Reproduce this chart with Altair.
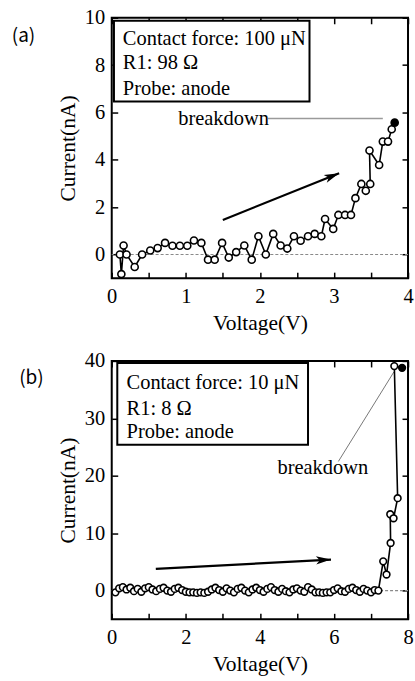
import altair as alt
import pandas as pd

# ---------------- data: panel (a) ----------------
a_voltage = [0.11, 0.13, 0.16, 0.20, 0.31, 0.41, 0.52, 0.62, 0.72, 0.82, 0.92, 1.02,
             1.11, 1.21, 1.30, 1.39, 1.49, 1.58, 1.68, 1.79, 1.89, 1.98, 2.08, 2.18,
             2.28, 2.37, 2.46, 2.55, 2.65, 2.74, 2.83, 2.88, 2.99, 3.06, 3.15, 3.23,
             3.29, 3.37, 3.43, 3.49, 3.48, 3.61, 3.66, 3.73, 3.78, 3.82]
a_current = [0.00, -0.83, 0.38, 0.00, -0.53, 0.00, 0.17, 0.27, 0.49, 0.37, 0.37, 0.37,
             0.59, 0.49, -0.22, -0.22, 0.49, -0.13, 0.10, 0.38, -0.22, 0.77, 0.00, 0.87,
             0.38, 0.25, 0.77, 0.58, 0.77, 0.87, 0.77, 1.50, 1.08, 1.67, 1.67, 1.67,
             2.38, 2.98, 2.69, 2.98, 4.39, 3.78, 4.77, 4.77, 5.29, 5.57]

# ---------------- data: panel (b) ----------------
b_voltage = [0.1, 0.2, 0.3, 0.4, 0.5, 0.6, 0.7, 0.8, 0.9, 1.0, 1.1, 1.2, 1.3, 1.4, 1.5,
             1.6, 1.7, 1.8, 1.9, 2.0, 2.1, 2.2, 2.3, 2.4, 2.5, 2.6, 2.7, 2.8, 2.9, 3.0,
             3.1, 3.2, 3.3, 3.4, 3.5, 3.6, 3.7, 3.8, 3.9, 4.0, 4.1, 4.2, 4.3, 4.4, 4.5,
             4.6, 4.7, 4.8, 4.9, 5.0, 5.1, 5.2, 5.3, 5.4, 5.5, 5.6, 5.7, 5.8, 5.9, 6.0,
             6.1, 6.2, 6.3, 6.4, 6.5, 6.6, 6.7, 6.8, 6.9, 7.0, 7.1, 7.2,
             7.33, 7.42, 7.53, 7.52, 7.61, 7.72, 7.63, 7.84]
b_current = [-0.3, 0.4, 0.6, 0.2, 0.5, -0.1, 0.3, -0.2, 0.4, 0.6, 0.2, -0.1, 0.3, 0.5, 0.0,
             -0.2, 0.3, 0.5, 0.1, -0.2, -0.3, -0.3, -0.4, -0.3, -0.4, -0.2, 0.2, 0.5, 0.1, -0.2,
             0.4, 0.0, -0.3, 0.3, 0.5, 0.0, -0.3, 0.2, 0.5, 0.1, -0.2, 0.3, 0.6, 0.1, -0.2,
             0.3, -0.1, -0.3, 0.2, 0.4, 0.0, -0.2, 0.6, 0.2, -0.3, -0.3, -0.4, -0.3, -0.3, 0.1,
             0.4, -0.1, -0.2, 0.3, 0.5, 0.1, -0.2, 0.3, 0.0, -0.3, 0.1, 0.0,
             5.1, 2.8, 8.3, 13.3, 12.6, 16.1, 39.1, 38.8]

# ---------------- annotations ----------------
a_box_lines = ["Contact force: 100 \u03bcN", "R1: 98 \u03a9", "Probe: anode"]
b_box_lines = ["Contact force: 10 \u03bcN", "R1: 8 \u03a9", "Probe: anode"]

A = dict(
    xdom=[0, 4], ydom=[-1, 10],
    xticks=[0, 0.5, 1, 1.5, 2, 2.5, 3, 3.5, 4], xlab_step=1,
    yticks=[0, 2, 4, 6, 8, 10],
    box=dict(x0=0.03, x1=2.67, y0=6.46, y1=9.87),
    box_text_x=0.15, box_text_y=[9.1, 8.07, 7.0], box_lines=a_box_lines,
    brk_text=(1.51, 5.74), brk_line=(2.11, 5.74, 3.66, 5.74),
    arrow=(1.50, 1.46, 3.07, 3.43),
    tag="(a)", tag_pos=(-1.35, 9.22),
)
B = dict(
    xdom=[0, 8], ydom=[-5, 40],
    xticks=[0, 1, 2, 3, 4, 5, 6, 7, 8], xlab_step=2,
    yticks=[0, 10, 20, 30, 40],
    box=dict(x0=0.15, x1=5.3, y0=25.4, y1=39.65),
    box_text_x=0.4, box_text_y=[36.2, 31.7, 27.6], box_lines=b_box_lines,
    brk_text=(5.7, 21.4), brk_line=(6.12, 22.5, 7.62, 38.1),
    arrow=(1.19, 3.8, 5.92, 5.4),
    tag="(b)", tag_pos=(-2.5, 37.1),
)

# ---------------- styles ----------------
SERIF = "Liberation Serif"
SANS = "Noto Sans CJK JP"
FS = 20.5
TFS = 21.5
TICK_IN = {"expr": "-6"}
ARROW_PATH = "M0,0 L-2,-0.55 L-1.5,0 L-2,0.55 Z"


def panel(volt, curr, P, width, height, pt_size, arrow_angle, brk_color, brk_width):
    n = len(volt)
    df = pd.DataFrame({"V": volt, "I": curr, "idx": list(range(n)),
                       "kind": ["open"] * (n - 1) + ["breakdown"]})
    xs = alt.Scale(domain=P["xdom"], nice=False, zero=False)
    ys = alt.Scale(domain=P["ydom"], nice=False, zero=False)

    def X(f, axis=None):
        return alt.X(f, type="quantitative", scale=xs, axis=axis)

    def Y(f, axis=None):
        return alt.Y(f, type="quantitative", scale=ys, axis=axis)

    step = P["xlab_step"]
    bottom_axis = alt.Axis(orient="bottom", values=P["xticks"], title="Voltage(V)",
                           labelExpr=f"datum.value % {step} == 0 ? '' + datum.value : ''",
                           tickSize=TICK_IN, labelPadding=14, titlePadding=6,
                           labelFlush=False, labelOverlap=False, minExtent=0)
    left_axis = alt.Axis(orient="left", values=P["yticks"], title="Current(nA)",
                         tickSize=TICK_IN, labelPadding=13, titlePadding=5,
                         labelFlush=False, labelOverlap=False, minExtent=0)
    top_axis = alt.Axis(orient="top", values=P["xticks"], title=None, labels=False,
                        tickSize=TICK_IN, minExtent=0, maxExtent=0)
    right_axis = alt.Axis(orient="right", values=P["yticks"], title=None, labels=False,
                          tickSize=TICK_IN, minExtent=0, maxExtent=0)

    zero = alt.Chart(pd.DataFrame({"I": [0]})).mark_rule(
        color="#8a8a8a", strokeDash=[3, 2], strokeWidth=1.2).encode(y=Y("I"))

    bl = P["brk_line"]
    brk_conn = alt.Chart(pd.DataFrame({"x0": [bl[0]], "y0": [bl[1]], "x1": [bl[2]], "y1": [bl[3]]})).mark_rule(
        color=brk_color, strokeWidth=brk_width).encode(x=X("x0"), y=Y("y0"), x2="x1", y2="y1")

    ar = P["arrow"]
    arrow_df = pd.DataFrame({"x0": [ar[0]], "y0": [ar[1]], "x1": [ar[2]], "y1": [ar[3]]})
    arrow_line = alt.Chart(arrow_df).mark_rule(color="black", strokeWidth=2.2).encode(
        x=X("x0"), y=Y("y0"), x2="x1", y2="y1")
    arrow_head = alt.Chart(arrow_df).mark_point(
        shape=ARROW_PATH, filled=True, color="black", size=225, angle=arrow_angle,
        opacity=1).encode(x=X("x1"), y=Y("y1"))

    line = alt.Chart(df).mark_line(color="black", strokeWidth=1.6).encode(
        x=X("V"), y=Y("I"), order="idx:Q")
    points = alt.Chart(df).mark_point(
        shape="circle", filled=True, stroke="black", strokeWidth=1.6, size=pt_size,
        opacity=1).encode(
        x=X("V", bottom_axis), y=Y("I", left_axis),
        fill=alt.Fill("kind:N", scale=alt.Scale(domain=["open", "breakdown"],
                                                range=["white", "black"]), legend=None))
    mirror = alt.Chart(df).mark_point(opacity=0).encode(
        x=X("V", top_axis), y=Y("I", right_axis))

    bx = P["box"]
    box = alt.Chart(pd.DataFrame([bx])).mark_rect(
        fill="white", stroke="black", strokeWidth=2).encode(
        x=X("x0"), x2="x1", y=Y("y0"), y2="y1")
    box_text = alt.Chart(pd.DataFrame({
        "x": [P["box_text_x"]] * 3, "y": P["box_text_y"], "t": P["box_lines"]})).mark_text(
        align="left", baseline="middle", font=SERIF, fontSize=FS, color="black").encode(
        x=X("x"), y=Y("y"), text="t:N")

    bt = P["brk_text"]
    brk_text = alt.Chart(pd.DataFrame({"x": [bt[0]], "y": [bt[1]], "t": ["breakdown"]})).mark_text(
        align="center", baseline="middle", font=SERIF, fontSize=FS, color="black").encode(
        x=X("x"), y=Y("y"), text="t:N")

    tp = P["tag_pos"]
    tag = alt.Chart(pd.DataFrame({"x": [tp[0]], "y": [tp[1]], "t": [P["tag"]]})).mark_text(
        align="left", baseline="middle", font=SANS, fontSize=19, color="black").encode(
        x=X("x"), y=Y("y"), text="t:N")

    layers = [zero, brk_conn, arrow_line, arrow_head, line, points, mirror,
              box, box_text, brk_text, tag]

    return alt.layer(*layers).resolve_axis(x="independent", y="independent").properties(
        width=width, height=height)


chart_a = panel(a_voltage, a_current, A, 297, 261, 50, 338.2, "#9a9a9a", 1.5)
chart_b = panel(b_voltage, b_current, B, 297, 259, 45, 357.0, "#555555", 0.8)

chart = alt.concat(chart_a, chart_b, columns=1, spacing=15).properties(
    padding={"left": 10, "top": 6, "right": 0, "bottom": 0},
    background="white",
).configure_view(
    stroke="black", strokeWidth=2
).configure_axis(
    domain=False, grid=False, tickColor="black", tickWidth=1.5,
    labelFont=SERIF, labelFontSize=FS, labelColor="black",
    titleFont=SERIF, titleFontSize=TFS, titleColor="black", titleFontWeight="normal",
)

chart.save("out.html", embed_options={"renderer": "svg", "actions": False})
